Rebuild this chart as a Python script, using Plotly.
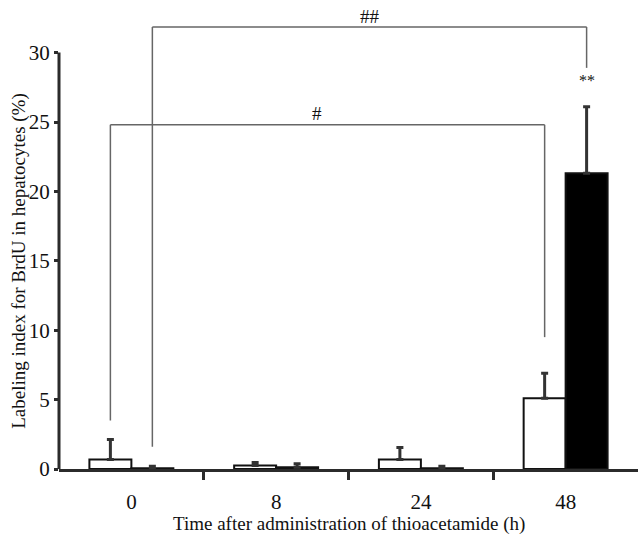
import plotly.graph_objects as go

hours = ["0", "8", "24", "48"]
positions = [0, 1, 2, 3]
white_vals = [0.68, 0.25, 0.68, 5.1]
white_err = [1.45, 0.22, 0.87, 1.8]
black_vals = [0.05, 0.12, 0.05, 21.3]
black_err = [0.15, 0.25, 0.15, 4.8]
y_ticks = [0, 5, 10, 15, 20, 25, 30]

FONT = "Liberation Serif, Times New Roman, serif"
AX = "#2b2b2b"

fig = go.Figure()
fig.add_trace(go.Bar(
    x=positions, y=white_vals, marker=dict(color="white", line=dict(color="#111", width=2)),
    error_y=dict(type="data", array=white_err, arrayminus=[0]*4, symmetric=False,
                 color="#333", thickness=3, width=3.5),
    showlegend=False))
fig.add_trace(go.Bar(
    x=positions, y=black_vals, marker=dict(color="black", line=dict(color="#111", width=2)),
    error_y=dict(type="data", array=black_err, arrayminus=[0]*4, symmetric=False,
                 color="#333", thickness=3, width=3.5),
    showlegend=False))

off = 0.145
bl = "#666"
# "#" bracket: 0h white vs 48h white
fig.add_shape(type="line", x0=0 - off, x1=0 - off, y0=3.5, y1=24.8, line=dict(color=bl, width=1.5))
fig.add_shape(type="line", x0=0 - off, x1=3 - off, y0=24.8, y1=24.8, line=dict(color=bl, width=1.5))
fig.add_shape(type="line", x0=3 - off, x1=3 - off, y0=24.8, y1=9.5, line=dict(color=bl, width=1.5))
# "##" bracket: 0h black vs 48h black
fig.add_shape(type="line", x0=0 + off, x1=0 + off, y0=1.6, y1=31.85, line=dict(color=bl, width=1.5))
fig.add_shape(type="line", x0=0 + off, x1=3 + off, y0=31.85, y1=31.85, line=dict(color=bl, width=1.5))
fig.add_shape(type="line", x0=3 + off, x1=3 + off, y0=31.85, y1=28.9, line=dict(color=bl, width=1.5))
# y axis line (only up to 30)
fig.add_shape(type="line", xref="paper", x0=0, x1=0, y0=0, y1=30, line=dict(color=AX, width=3))

fig.add_annotation(x=1.28, y=24.8, text="#", showarrow=False, yanchor="bottom", yshift=-1,
                   font=dict(family=FONT, size=19, color="#111"))
fig.add_annotation(x=1.65, y=31.85, text="##", showarrow=False, yanchor="bottom", yshift=-2,
                   font=dict(family=FONT, size=19, color="#111"))
fig.add_annotation(x=3 + off, y=28.0, text="**", showarrow=False, yanchor="middle",
                   font=dict(family=FONT, size=16, color="#111"))
# y axis title, centred on the 0-30 axis line
fig.add_annotation(xref="paper", x=0, y=15, xanchor="center", yanchor="middle", xshift=-40,
                   text="Labeling index for BrdU in hepatocytes (%)", textangle=-90,
                   showarrow=False, font=dict(family=FONT, size=19, color="#111"))
# x axis title
fig.add_annotation(x=1.5, yref="paper", y=0, xanchor="center", yanchor="middle", yshift=-55,
                   text="Time after administration of thioacetamide (h)",
                   showarrow=False, font=dict(family=FONT, size=19, color="#111"))

fig.update_layout(
    width=638, height=539,
    margin=dict(l=59, r=0, t=10, b=70),
    paper_bgcolor="white", plot_bgcolor="white",
    barmode="group", bargap=0.42, bargroupgap=0,
    font=dict(family=FONT, color="#111"),
    xaxis=dict(
        range=[-0.5, 3.5], tickvals=positions, ticktext=hours, ticks="",
        showline=True, linecolor=AX, linewidth=3, showgrid=False, zeroline=False,
        tickfont=dict(family=FONT, size=21, color="#111"),
        ticklabelstandoff=12,
        minor=dict(tickvals=[0.5, 1.5, 2.5], ticks="outside", ticklen=8, tickwidth=3, tickcolor=AX),
    ),
    yaxis=dict(
        range=[0, 459 / 13.88], tickvals=y_ticks, ticks="outside", ticklen=4, tickwidth=3,
        tickcolor=AX, showline=False, showgrid=False, zeroline=False,
        tickfont=dict(family=FONT, size=21, color="#111"),
    ),
)

fig.write_html("out.html")
